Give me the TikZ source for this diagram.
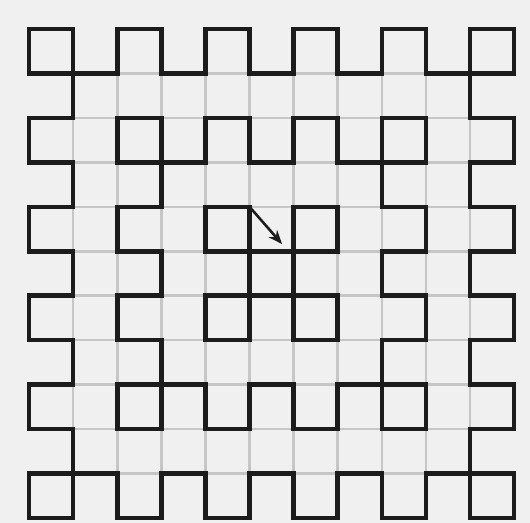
\documentclass[tikz,border=0pt]{standalone}
\usetikzlibrary{arrows.meta}
\definecolor{paper}{HTML}{F0F0F0}
\definecolor{gridgrey}{HTML}{C6C6C6}
\definecolor{ink}{HTML}{1C1C1C}
\tikzset{
  gridline/.style={draw=gridgrey, line width=2.6bp},
  ringline/.style={draw=ink, line width=4.6bp, line join=miter, line cap=rect},
  boxline/.style={draw=ink, line width=4.6bp, line join=miter},
  pointer/.style={draw=ink, line width=2.6bp, -{Stealth[length=14bp,width=11bp]}}
}
\begin{document}
\begin{tikzpicture}[x=1bp,y=-1bp]
\fill[paper] (0,0) rectangle (530,523);
\useasboundingbox (0,0) rectangle (530,523);
\begin{scope}[shift={(29,29)}, x=44.1bp, y=-44.45bp]
  % grey grid
  \foreach \t in {1,...,10} {
    \draw[gridline] (\t,1) -- (\t,10);
    \draw[gridline] (1,\t) -- (10,\t);
  }
  % outer ring
  \draw[ringline] (1,1)
    foreach \k in {2,4,6,8} { -- (\k,1) -- (\k,0) -- (\k+1,0) -- (\k+1,1) } -- (10,1)
    foreach \k in {2,4,6,8} { -- (10,\k) -- (11,\k) -- (11,\k+1) -- (10,\k+1) } -- (10,10)
    foreach \k in {8,6,4,2} { -- (\k+1,10) -- (\k+1,11) -- (\k,11) -- (\k,10) } -- (1,10)
    foreach \k in {8,6,4,2} { -- (1,\k+1) -- (0,\k+1) -- (0,\k) -- (1,\k) } -- cycle;
  \foreach \p/\q in {0/0,10/0,0/10,10/10}
    \draw[boxline] (\p,\q) rectangle ++(1,1);
  % second ring
  \draw[ringline] (3,3)
    foreach \k in {4,6} { -- (\k,3) -- (\k,2) -- (\k+1,2) -- (\k+1,3) } -- (8,3)
    foreach \k in {4,6} { -- (8,\k) -- (9,\k) -- (9,\k+1) -- (8,\k+1) } -- (8,8)
    foreach \k in {6,4} { -- (\k+1,8) -- (\k+1,9) -- (\k,9) -- (\k,8) } -- (3,8)
    foreach \k in {6,4} { -- (3,\k+1) -- (2,\k+1) -- (2,\k) -- (3,\k) } -- cycle;
  \foreach \p/\q in {2/2,8/2,2/8,8/8}
    \draw[boxline] (\p,\q) rectangle ++(1,1);
  % inner ring
  \draw[boxline] (5,5) rectangle (6,6);
  \foreach \p/\q in {4/4,6/4,4/6,6/6}
    \draw[boxline] (\p,\q) rectangle ++(1,1);
  % arrow
  \coordinate (start) at (5,4);
  \coordinate (tip) at (5.74,4.84);
  \draw[pointer] (start) -- (tip);
\end{scope}
\end{tikzpicture}
\end{document}
